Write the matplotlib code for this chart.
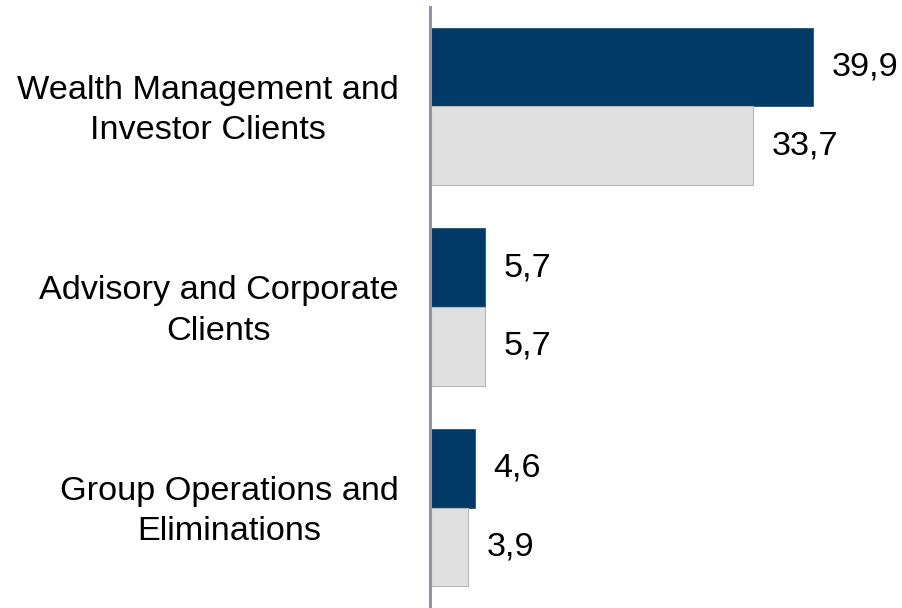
import matplotlib.pyplot as plt
import matplotlib.transforms as mtransforms
import numpy as np

plt.rcParams['font.family'] = ['Liberation Sans', 'DejaVu Sans']

# data
categories = ['Wealth Management and\nInvestor Clients',
              'Advisory and Corporate\nClients',
              'Group Operations and\nEliminations']
current = [39.9, 5.7, 4.6]
previous = [33.7, 5.7, 3.9]

dark = '#013a66'
light = '#e0e0e0'

fig = plt.figure(figsize=(9.03, 6.08), dpi=100)
ax = fig.add_axes([430.5 / 903, 0, 1 - 430.5 / 903, 601 / 608])

y = np.arange(len(categories))
h = 0.392
ax.barh(y - h / 2, current, height=h, color=dark, edgecolor='#2c5078', linewidth=0.6)
ax.barh(y + h / 2, previous, height=h, color=light, edgecolor='#b8b8b8', linewidth=0.8)

def fmt(v):
    return f'{v:.1f}'.replace('.', ',')

fs = 24.7
for i in range(len(categories)):
    ax.annotate(fmt(current[i]), (current[i], y[i] - h / 2), xytext=(13.3, 0),
                textcoords='offset points', va='center', ha='left', fontsize=fs)
    ax.annotate(fmt(previous[i]), (previous[i], y[i] + h / 2), xytext=(13.3, 0),
                textcoords='offset points', va='center', ha='left', fontsize=fs)

ax.set_yticks(y)
ax.set_yticklabels(categories, fontsize=fs, linespacing=1.38, multialignment='center')
ax.tick_params(axis='y', length=0, pad=23)
# nudge the category labels up a little
shift = mtransforms.ScaledTranslation(0, 4 / 100, fig.dpi_scale_trans)
for lab in ax.get_yticklabels():
    lab.set_transform(lab.get_transform() + shift)
ax.set_xticks([])
ax.set_xlim(0, 49.3)
ax.set_ylim(2.5, -0.495)

for s in ['top', 'right', 'bottom']:
    ax.spines[s].set_visible(False)
ax.spines['left'].set_color('#8c96a6')
ax.spines['left'].set_linewidth(2.2)

fig.savefig('out.png', dpi=100)
